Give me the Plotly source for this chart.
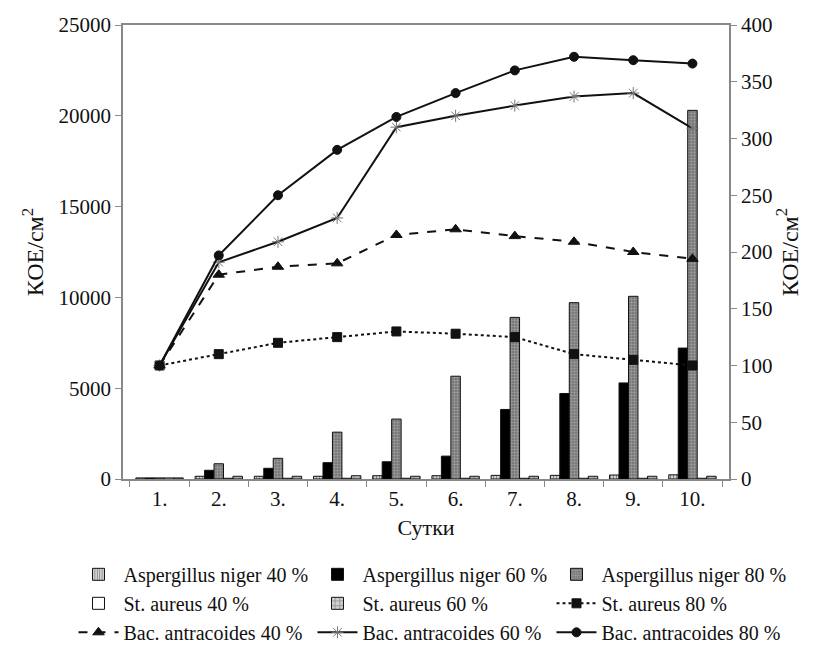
import plotly.graph_objects as go

days = ["1.", "2.", "3.", "4.", "5.", "6.", "7.", "8.", "9.", "10."]

# Bars (left axis)
asp40 = [60, 150, 150, 150, 180, 180, 200, 200, 220, 230]
asp60 = [60, 480, 590, 900, 950, 1260, 3830, 4710, 5290, 7210]
asp80 = [60, 840, 1140, 2580, 3300, 5660, 8900, 9710, 10060, 20300]
st40 = [60, 40, 40, 40, 40, 40, 40, 40, 40, 40]
st60 = [60, 150, 150, 180, 150, 150, 150, 150, 150, 150]

# Lines (right axis)
st80 = [100, 110, 120, 125, 130, 128, 125, 110, 105, 100]
bac40 = [100, 180, 187, 190, 215, 220, 214, 209, 200, 194]
bac60 = [100, 191, 209, 230, 310, 320, 329, 337, 340, 309]
bac80 = [100, 197, 250, 290, 319, 340, 360, 372, 369, 366]

FONT = "Liberation Serif, Times New Roman, serif"
fig = go.Figure()

def bar(name, y, color, pattern=None):
    fig.add_trace(go.Bar(
        x=days, y=y, name=name,
        marker=dict(color=color, line=dict(color="#111", width=1),
                    pattern=pattern),
        yaxis="y",
    ))

bar("Aspergillus niger 40 %", asp40, "white",
    dict(shape="|", fgcolor="#111", bgcolor="white", size=3, solidity=0.6))
bar("Aspergillus niger 60 %", asp60, "#000")
bar("Aspergillus niger 80 %", asp80, "#8a8a8a",
    dict(shape="+", fgcolor="#d0d0d0", bgcolor="#7a7a7a", size=3, solidity=0.3))
bar("St. aureus 40 %", st40, "white")
bar("St. aureus 60 %", st60, "#aaa",
    dict(shape="+", fgcolor="#333", bgcolor="#cfcfcf", size=6, solidity=0.25))

def line(name, y, dash, symbol, size, color="#111", mcolor="#111"):
    fig.add_trace(go.Scatter(
        x=days, y=y, name=name, yaxis="y2", mode="lines+markers",
        line=dict(color=color, width=2, dash=dash),
        marker=dict(symbol=symbol, size=size, color=mcolor,
                    line=dict(color=mcolor, width=1)),
    ))

line("St. aureus 80 %", st80, "dot", "square", 9)
line("Bac. antracoides 40 %", bac40, "dash", "triangle-up", 10)
line("Bac. antracoides 60 %", bac60, "solid", "asterisk-open", 10, mcolor="#777")
line("Bac. antracoides 80 %", bac80, "solid", "circle", 9)

tick_font = dict(family=FONT, size=21, color="#111")
title_font = dict(family=FONT, size=22, color="#111")
fig.update_layout(
    width=816, height=655,
    margin=dict(l=115, r=95, t=17, b=184, autoexpand=False),
    paper_bgcolor="white", plot_bgcolor="white",
    barmode="group", bargap=0.2, bargroupgap=0,
    font=dict(family=FONT, size=20, color="#111"),
    xaxis=dict(
        showline=True, linecolor="#888", linewidth=1.5, mirror=True,
        ticks="outside", tickson="boundaries", ticklen=6, tickcolor="#888",
        tickfont=tick_font,
        title=dict(text="Сутки", font=title_font, standoff=10),
        showgrid=False, zeroline=False,
    ),
    yaxis=dict(
        range=[0, 25000], dtick=5000, tickformat="d", showline=True,
        linecolor="#888", linewidth=1.5, ticks="outside", ticklen=6,
        tickcolor="#888", tickfont=tick_font, showgrid=False, zeroline=False,
        title=dict(text="КОЕ/см<sup>2</sup>", font=dict(family=FONT, size=24, color="#111"), standoff=8),
    ),
    yaxis2=dict(
        range=[0, 400], dtick=50, overlaying="y", side="right",
        showline=True, linecolor="#888", linewidth=1.5, ticks="outside",
        ticklen=6, tickcolor="#888", tickfont=tick_font, showgrid=False,
        zeroline=False,
        title=dict(text="КОЕ/см<sup>2</sup>", font=dict(family=FONT, size=24, color="#111"), standoff=9),
    ),
    legend=dict(
        orientation="h", x=-0.0817, xanchor="left", y=-0.167, yanchor="top",
        entrywidth=184, entrywidthmode="pixels", itemwidth=40,
        font=dict(family=FONT, size=20, color="#111"),
        traceorder="normal", tracegroupgap=0,
    ),
)

fig.write_html("out.html")
